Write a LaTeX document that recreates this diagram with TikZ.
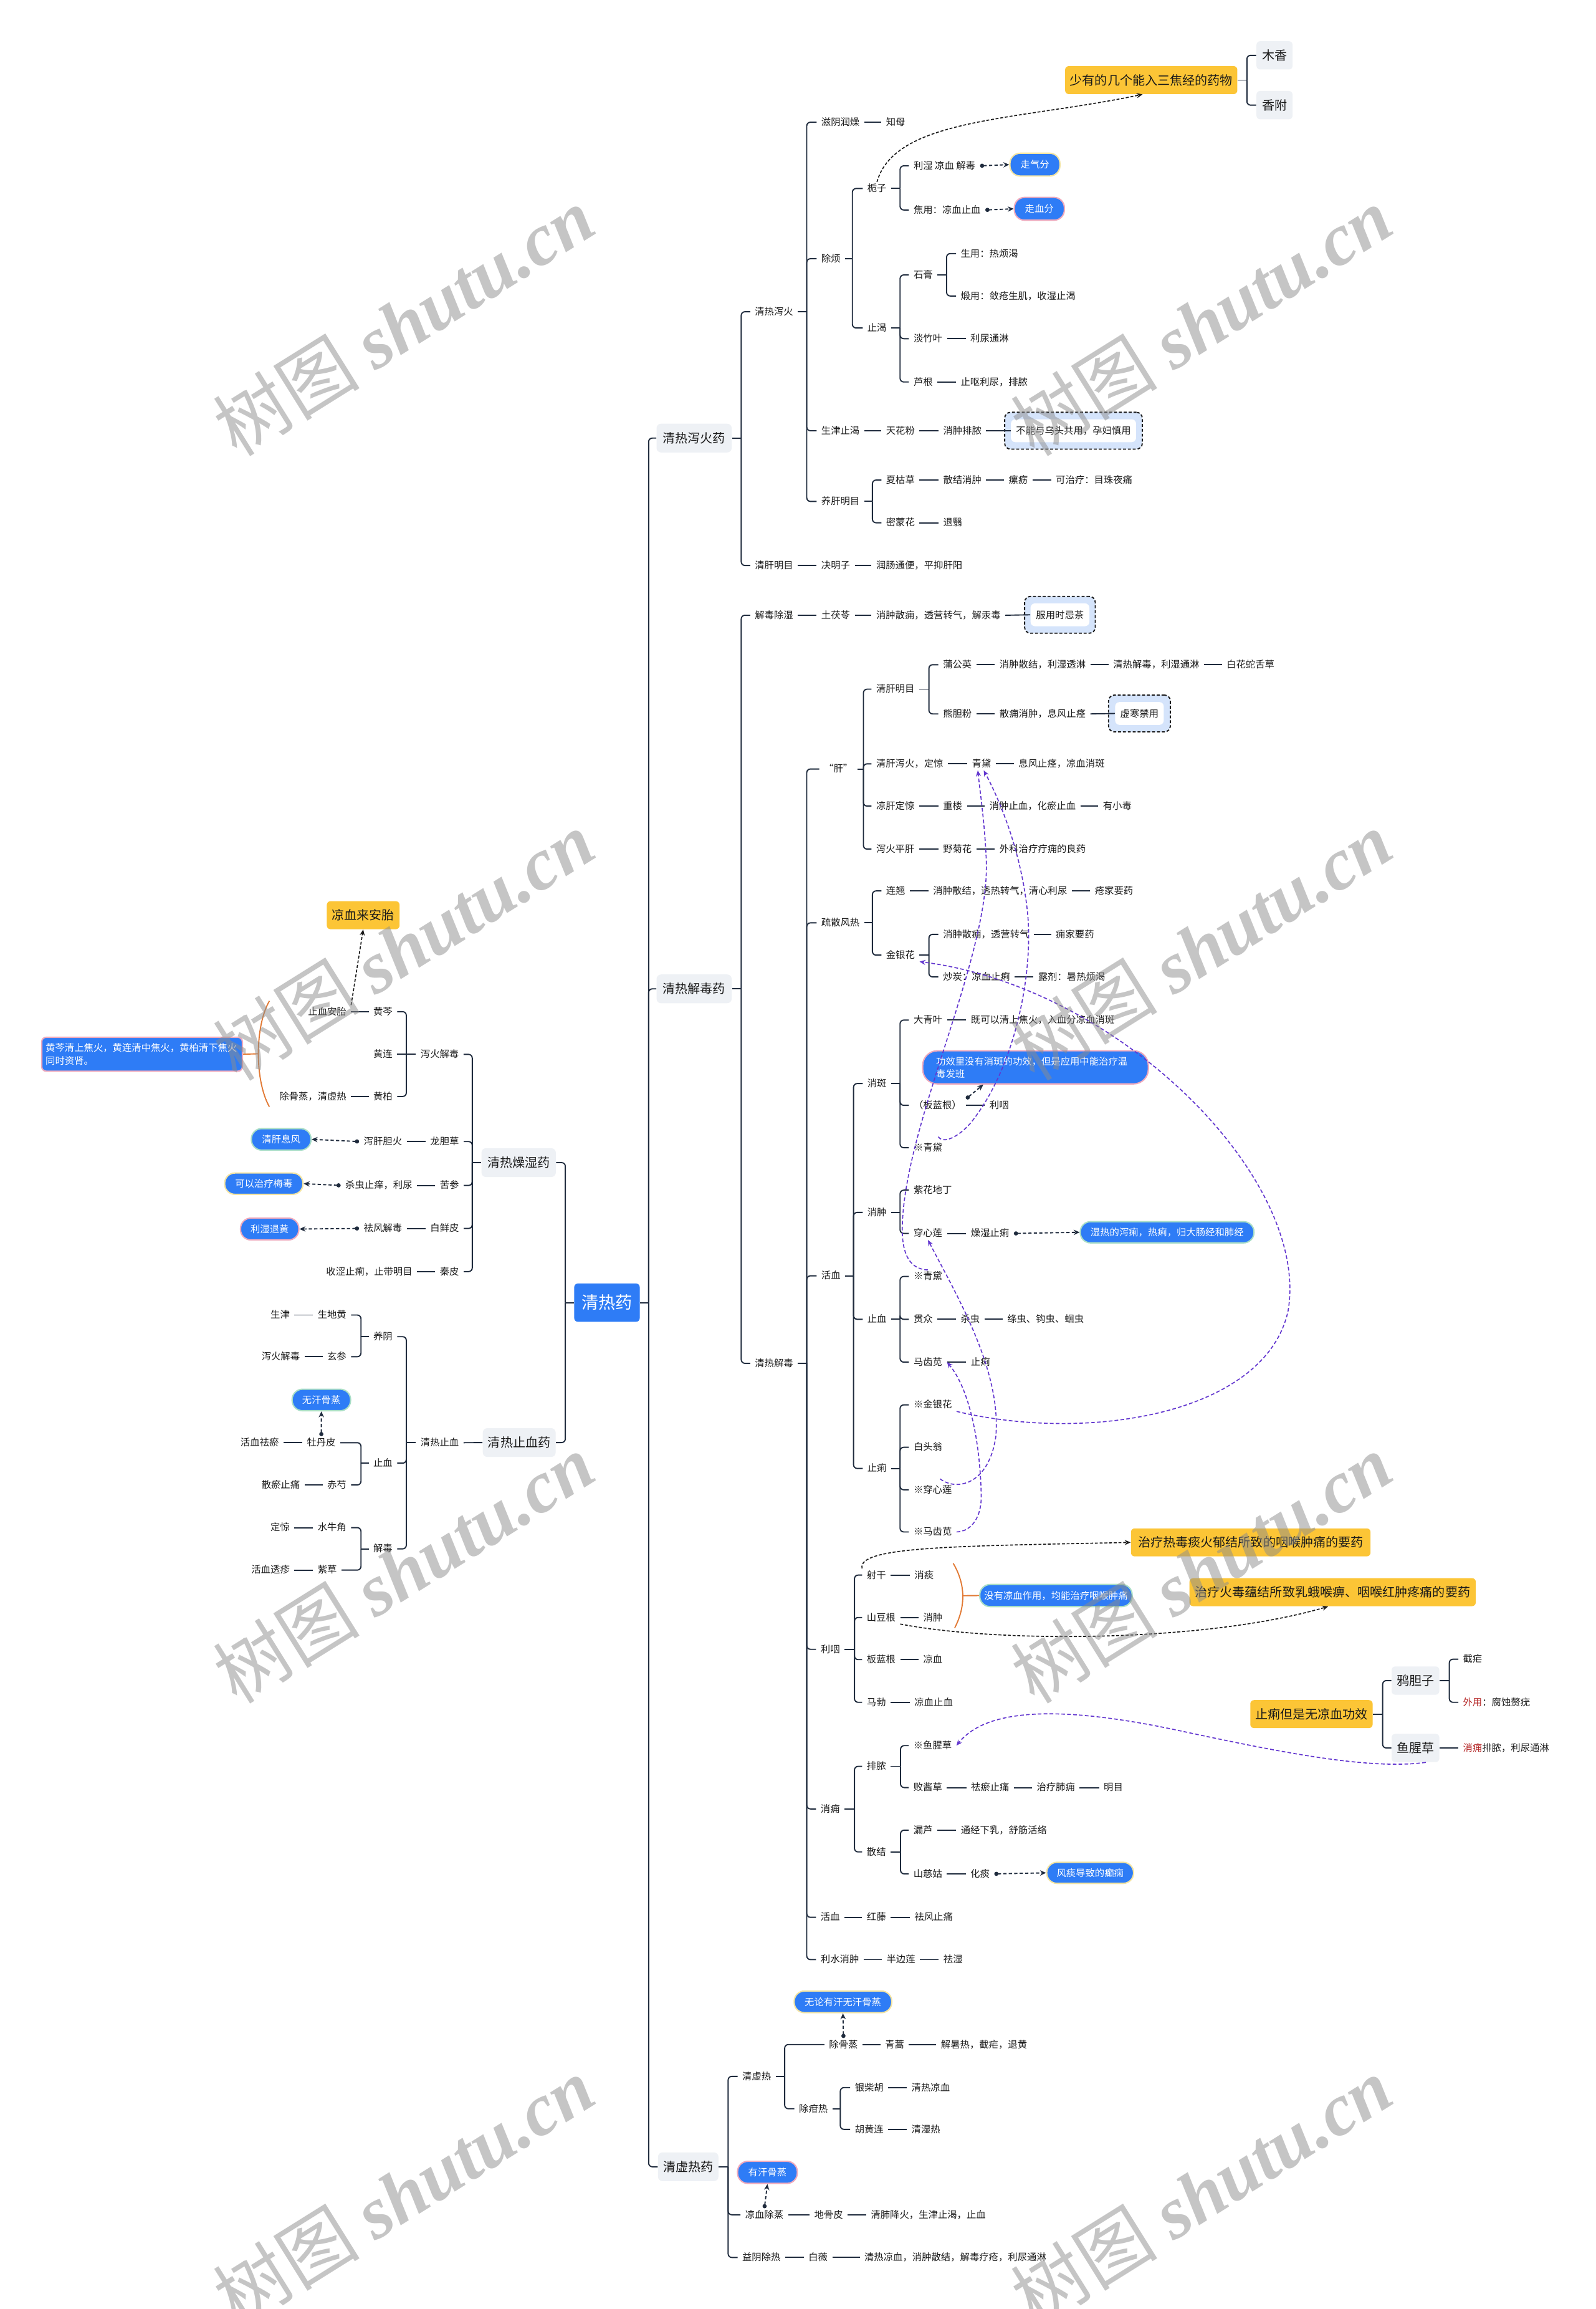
\documentclass[tikz,border=0pt]{standalone}
\usepackage{fontspec}
\setmainfont{Noto Sans CJK SC}
\newfontfamily\wmlat{Liberation Serif}
\usetikzlibrary{arrows.meta,calc}
\definecolor{ln}{HTML}{1F2B3D}
\definecolor{txc}{HTML}{1A1A1A}
\definecolor{bl}{HTML}{2E7CF6}
\definecolor{yl}{HTML}{FCC536}
\definecolor{gb}{HTML}{EEF1F5}
\definecolor{lb}{HTML}{D5E4FB}
\definecolor{pu}{HTML}{6236CF}
\definecolor{brY}{HTML}{F3E4A2}
\definecolor{brP}{HTML}{EFA9BC}
\definecolor{brG}{HTML}{A9DEC6}
\definecolor{org}{HTML}{E27A35}
\definecolor{rd}{HTML}{B42424}
\newcommand\mmR[4]{\node[tx,anchor=west] (#1) at (#2-3,#3) {#4};}
\newcommand\mmL[4]{\node[tx,anchor=east] (#1) at (#2+3,#3) {#4};}
\newcommand\lk[2]{\draw[tree] (#1.east) -- (#2.west);}
\newcommand\lkL[2]{\draw[tree] (#1.west) -- (#2.east);}
\newcommand\kidsR[3]{\draw[tree] (#1.east) -- (#1.east -| #2,0);
  \foreach \kid in {#3}{\draw[tree,rounded corners=2.5pt] (#1.east -| #2,0) |- (\kid.west);}}
\newcommand\kidsL[3]{\draw[tree] (#1.west) -- (#1.west -| #2,0);
  \foreach \kid in {#3}{\draw[tree,rounded corners=2.5pt] (#1.west -| #2,0) |- (\kid.east);}}
\newcommand\DB[6]{\node[dbout,minimum width=#4pt] (#1o) at (#2,#3) {};
  \node[dbin,minimum width=#5pt] (#1) at (#2,#3) {#6};}
\begin{document}
\begin{tikzpicture}[x=1pt,y=-1pt,
 tx/.style={font=\fontsize{6.5}{7.5}\selectfont, text=txc, inner xsep=3pt, inner ysep=1pt, text height=5.5pt, text depth=1pt},
 tree/.style={draw=ln, line width=0.8pt},
 rootbox/.style={fill=bl, text=white, rounded corners=2.5pt, minimum width=44.5pt, minimum height=26pt, inner sep=0pt, font=\fontsize{11.5}{12}\selectfont},
 l1box/.style={fill=gb, text=txc, rounded corners=3pt, minimum height=19.5pt, inner sep=0pt, font=\fontsize{8.5}{9}\selectfont},
 ybox/.style={fill=yl, text=txc, rounded corners=2.5pt, minimum height=19pt, inner sep=0pt, font=\fontsize{8.5}{9}\selectfont},
 gbox/.style={fill=gb, text=txc, rounded corners=2.5pt, minimum height=19.2pt, inner sep=0pt, font=\fontsize{8.5}{9}\selectfont},
 pill/.style={fill=bl, text=white, rounded corners=7pt, line width=0.9pt, inner sep=0pt, font=\fontsize{6.5}{8.5}\selectfont},
 dbout/.style={draw=txc, dash pattern=on 2pt off 1.3pt, line width=0.8pt, fill=lb, rounded corners=4pt, minimum height=25pt, inner sep=0pt},
 dbin/.style={fill=white, rounded corners=3pt, minimum height=15.5pt, inner sep=0pt, font=\fontsize{6.5}{7.5}\selectfont, text=txc},
 dotarr/.style={draw=ln, line width=0.8pt, dash pattern=on 2.2pt off 1.5pt, {Circle[length=2.8pt]}-{Stealth[length=4pt,width=3.6pt]}},
 bkarr/.style={draw=txc, line width=0.7pt, dash pattern=on 2pt off 1.2pt, -{Stealth[length=4pt,width=3.4pt]}},
 puarr/.style={draw=pu, line width=0.7pt, dash pattern=on 2.5pt off 1.5pt, -{Stealth[length=4pt,width=3.4pt]}},
 orgline/.style={draw=org, line width=0.8pt},
 wm/.style={text=black!45, text opacity=0.5, font=\fontsize{50}{50}\selectfont}]
\useasboundingbox (0,0) rectangle (1084,1568);
\fill[white] (0,0) rectangle (1084,1568);

% ---- root and level 1
\node[rootbox] (root) at (412.3,884.6) {清热药};
\node[l1box,minimum width=51pt] (qrxh) at (471.5,297.5) {清热泻火药};
\node[l1box,minimum width=51pt] (qrjd) at (471.5,671.5) {清热解毒药};
\node[l1box,minimum width=41pt] (qxr) at (467.5,1471.4) {清虚热药};
\node[l1box,minimum width=50.5pt] (zsy) at (352.3,789.5) {清热燥湿药};
\node[l1box,minimum width=49.5pt] (zxy) at (352.7,979.6) {清热止血药};
\kidsR{root}{440.6}{qrxh,qrjd,qxr}
\kidsL{root}{384}{zsy,zxy}

% ---- 清热泻火药
\mmR{a1}{512.6}{211.7}{清热泻火}
\mmR{a2}{512.6}{384}{清肝明目}
\kidsR{qrxh}{503.5}{a1,a2}
\mmR{b1}{557.7}{83}{滋阴润燥}
\mmR{b1a}{601.7}{83}{知母}\lk{b1}{b1a}
\mmR{b2}{557.7}{175.7}{除烦}
\mmR{b3}{557.7}{292.5}{生津止渴}
\mmR{b4}{557.7}{340.5}{养肝明目}
\kidsR{a1}{548}{b1,b2,b3,b4}
\mmR{c1}{589}{128}{栀子}
\mmR{c2}{589}{222.7}{止渴}
\kidsR{b2}{579}{c1,c2}
\mmR{d1}{620.4}{112.6}{利湿 凉血 解毒}
\mmR{d2}{620.4}{142.6}{焦用：凉血止血}
\kidsR{c1}{611.4}{d1,d2}
\node[pill,draw=brY,minimum width=34pt,minimum height=15.5pt] (p1) at (703,111.8) {走气分};
\node[pill,draw=brP,minimum width=34pt,minimum height=15.5pt] (p2) at (706,141.8) {走血分};
\draw[dotarr] (d1.east) -- (p1.west);
\draw[dotarr] (d2.east) -- (p2.west);
\mmR{d3}{620.4}{186.7}{石膏}
\mmR{d4}{620.4}{230}{淡竹叶}
\mmR{d5}{620.4}{259.4}{芦根}
\kidsR{c2}{611.4}{d3,d4,d5}
\mmR{e1}{652.4}{172.2}{生用：热烦渴}
\mmR{e2}{652.4}{201}{煅用：敛疮生肌，收湿止渴}
\kidsR{d3}{643}{e1,e2}
\mmR{d4a}{659}{230}{利尿通淋}\lk{d4}{d4a}
\mmR{d5a}{652.4}{259.4}{止呕利尿，排脓}\lk{d5}{d5a}
\mmR{b3a}{601.7}{292.5}{天花粉}
\mmR{b3b}{640.5}{292.5}{消肿排脓}
\DB{db1}{729.2}{292.5}{93.5}{85}{不能与乌头共用，孕妇慎用}
\lk{b3}{b3a}\lk{b3a}{b3b}\lk{b3b}{db1}
\mmR{b4a}{601.7}{326}{夏枯草}
\mmR{b4b}{601.7}{355}{密蒙花}
\kidsR{b4}{592.6}{b4a,b4b}
\mmR{b4a1}{640.5}{326}{散结消肿}
\mmR{b4a2}{685}{326}{瘰疬}
\mmR{b4a3}{717}{326}{可治疗：目珠夜痛}
\lk{b4a}{b4a1}\lk{b4a1}{b4a2}\lk{b4a2}{b4a3}
\mmR{b4b1}{640.5}{355}{退翳}\lk{b4b}{b4b1}
\mmR{a2a}{557.7}{384}{决明子}
\mmR{a2b}{595}{384}{润肠通便，平抑肝阳}
\lk{a2}{a2a}\lk{a2a}{a2b}
\node[ybox,minimum width=117pt] (sy) at (782,54.4) {少有的几个能入三焦经的药物};
\node[gbox,minimum width=24.5pt] (mx) at (865.75,37.6) {木香};
\node[gbox,minimum width=24.5pt] (xf) at (865.75,71.4) {香附};
\kidsR{sy}{847}{mx,xf}
\draw[bkarr] (c1.north) .. controls (608,80) and (690,82) .. ($(sy.south west)!0.45!(sy.south east)$);

% ---- 清热解毒药
\mmR{f1}{512.6}{417.8}{解毒除湿}
\mmR{f2}{512.6}{925.8}{清热解毒}
\kidsR{qrjd}{503.5}{f1,f2}
\mmR{f1a}{557.7}{417.8}{土茯苓}
\mmR{f1b}{595}{417.8}{消肿散痈，透营转气，解汞毒}
\DB{db2}{720}{417.5}{48}{40}{服用时忌茶}
\lk{f1}{f1a}\lk{f1a}{f1b}\lk{f1b}{db2}
\mmR{g1}{559.5}{522.2}{“肝”}
\mmR{g2}{557.7}{626.7}{疏散风热}
\mmR{g3}{557.7}{866.4}{活血}
\mmR{g4}{557.3}{1120}{利咽}
\mmR{g5}{557.3}{1228.4}{消痈}
\mmR{g6}{557.3}{1302}{活血}
\mmR{g7}{557.3}{1330.7}{利水消肿}
\kidsR{f2}{548}{g1,g2,g3,g4,g5,g6,g7}
\mmR{h1}{595}{468}{清肝明目}
\mmR{h2}{595}{518.7}{清肝泻火，定惊}
\mmR{h3}{595}{547.4}{凉肝定惊}
\mmR{h4}{595}{576.6}{泻火平肝}
\kidsR{g1}{586.5}{h1,h2,h3,h4}
\mmR{h1a}{640.4}{451.4}{蒲公英}
\mmR{h1b}{640.4}{484.8}{熊胆粉}
\kidsR{h1}{631}{h1a,h1b}
\mmR{h1a1}{678.8}{451.4}{消肿散结，利湿透淋}
\mmR{h1a2}{756}{451.4}{清热解毒，利湿通淋}
\mmR{h1a3}{833}{451.4}{白花蛇舌草}
\lk{h1a}{h1a1}\lk{h1a1}{h1a2}\lk{h1a2}{h1a3}
\mmR{h1b1}{678.8}{484.8}{散痈消肿，息风止痉}
\DB{db3}{774}{484.5}{42}{33}{虚寒禁用}
\lk{h1b}{h1b1}\lk{h1b1}{db3}
\mmR{qd1}{660}{518.7}{青黛}
\mmR{h2b}{691.7}{518.7}{息风止痉，凉血消斑}
\lk{h2}{qd1}\lk{qd1}{h2b}
\mmR{h3a}{640.4}{547.4}{重楼}
\mmR{h3b}{672}{547.4}{消肿止血，化瘀止血}
\mmR{h3c}{749}{547.4}{有小毒}
\lk{h3}{h3a}\lk{h3a}{h3b}\lk{h3b}{h3c}
\mmR{h4a}{640.4}{576.6}{野菊花}
\mmR{h4b}{678.8}{576.6}{外科治疗疔痈的良药}
\lk{h4}{h4a}\lk{h4a}{h4b}
\mmR{lq}{601.7}{605}{连翘}
\mmR{jyh}{601.7}{648.6}{金银花}
\kidsR{g2}{592.6}{lq,jyh}
\mmR{lq1}{633.7}{605}{消肿散结，透热转气，清心利尿}
\mmR{lq2}{743.5}{605}{疮家要药}
\lk{lq}{lq1}\lk{lq1}{lq2}
\mmR{j1}{640.4}{634.5}{消肿散痈，透营转气}
\mmR{j2}{640.4}{663.4}{炒炭：凉血止痢}
\kidsR{jyh}{631}{j1,j2}
\mmR{j1a}{717}{634.5}{痈家要药}\lk{j1}{j1a}
\mmR{j2a}{705}{663.4}{露剂：暑热烦渴}\lk{j2}{j2a}
\mmR{k1}{589}{735.8}{消斑}
\mmR{k2}{589}{823.3}{消肿}
\mmR{k3}{589}{895.9}{止血}
\mmR{k4}{589}{997.2}{止痢}
\kidsR{g3}{579.8}{k1,k2,k3,k4}
\mmR{dqy}{620.4}{692.7}{大青叶}
\mmR{blg}{620.4}{750.6}{（板蓝根）}
\mmR{qd2}{620.4}{779.4}{※青黛}
\kidsR{k1}{611.4}{dqy,blg,qd2}
\mmR{dqy1}{659.3}{692.7}{既可以清上焦火，入血分凉血消斑}\lk{dqy}{dqy1}
\mmR{blg1}{672}{750.6}{利咽}\lk{blg}{blg1}
\node[pill,draw=brP,minimum width=153.3pt,minimum height=22.5pt,rounded corners=10pt,text width=135pt,align=left] (gx) at (703.4,724.8) {功效里没有消斑的功效，但是应用中能治疗温\\毒发班};
\draw[dotarr] (blg.north east) -- ($(gx.south west)!0.27!(gx.south east)$);
\mmR{zhdd}{620.4}{808.2}{紫花地丁}
\mmR{cxl}{620.4}{837.6}{穿心莲}
\kidsR{k2}{611.4}{zhdd,cxl}
\mmR{cxl1}{659.3}{837.6}{燥湿止痢}\lk{cxl}{cxl1}
\node[pill,draw=brG,minimum width=118pt,minimum height=14.4pt] (sr) at (792.8,836.8) {湿热的泻痢，热痢，归大肠经和肺经};
\draw[dotarr] (cxl1.east) -- (sr.west);
\mmR{qd3}{620.4}{866.8}{※青黛}
\mmR{gz}{620.4}{895.9}{贯众}
\mmR{mcx}{620.4}{925}{马齿苋}
\kidsR{k3}{611.4}{qd3,gz,mcx}
\mmR{gz1}{652.4}{895.9}{杀虫}
\mmR{gz2}{684}{895.9}{绦虫、钩虫、蛔虫}
\lk{gz}{gz1}\lk{gz1}{gz2}
\mmR{mcx1}{659.3}{925}{止痢}\lk{mcx}{mcx1}
\mmR{jyh2}{620.4}{954}{※金银花}
\mmR{btw}{620.4}{982.8}{白头翁}
\mmR{cxl2}{620.4}{1011.7}{※穿心莲}
\mmR{mcx2}{620.4}{1040.3}{※马齿苋}
\kidsR{k4}{611.4}{jyh2,btw,cxl2,mcx2}
\mmR{sg}{588.6}{1069.6}{射干}
\mmR{sdg}{588.6}{1098.4}{山豆根}
\mmR{blg2}{588.6}{1127}{板蓝根}
\mmR{mb}{588.6}{1156}{马勃}
\kidsR{g4}{580.4}{sg,sdg,blg2,mb}
\mmR{sg1}{621}{1069.6}{消痰}\lk{sg}{sg1}
\mmR{sdg1}{627}{1098.4}{消肿}\lk{sdg}{sdg1}
\mmR{blg21}{627}{1127}{凉血}\lk{blg2}{blg21}
\mmR{mb1}{621}{1156}{凉血止血}\lk{mb}{mb1}
\node[pill,draw=brG,minimum width=103.5pt,minimum height=15pt] (my) at (717.3,1083.5) {没有凉血作用，均能治疗咽喉肿痛};
\coordinate (oa1) at (647.5,1061.6);
\coordinate (oa2) at (648.5,1105.5);
\coordinate (oam) at (654,1083.6);
\draw[orgline] (oa1) .. controls (656,1076) and (656,1091) .. (oa2);
\draw[orgline] (oam) -- (my.west);
\node[ybox,minimum width=162.7pt] (ytr) at (849.6,1047.4) {治疗热毒痰火郁结所致的咽喉肿痛的要药};
\node[ybox,minimum width=194.5pt] (yhd) at (905.2,1081.2) {治疗火毒蕴结所致乳蛾喉痹、咽喉红肿疼痛的要药};
\draw[bkarr] (sg.north west) .. controls (582,1050) and (650,1050) .. (ytr.west);
\draw[bkarr] (sdg.south east) .. controls (680,1116) and (820,1115) .. ($(yhd.south)+(-3,0)$);
\mmR{pn}{588.6}{1199.5}{排脓}
\mmR{sj}{588.6}{1257.6}{散结}
\kidsR{g5}{580.4}{pn,sj}
\mmR{yxc2}{620.3}{1185.4}{※鱼腥草}
\mmR{bjc}{620.3}{1213.9}{败酱草}
\kidsR{pn}{611.7}{yxc2,bjc}
\mmR{bjc1}{659.4}{1213.9}{祛瘀止痛}
\mmR{bjc2}{704}{1213.9}{治疗肺痈}
\mmR{bjc3}{749.6}{1213.9}{明目}
\lk{bjc}{bjc1}\lk{bjc1}{bjc2}\lk{bjc2}{bjc3}
\mmR{ll}{620.3}{1242.8}{漏芦}
\mmR{scg}{620.3}{1272.5}{山慈姑}
\kidsR{sj}{611.7}{ll,scg}
\mmR{ll1}{652.5}{1242.8}{通经下乳，舒筋活络}\lk{ll}{ll1}
\mmR{scg1}{659}{1272.5}{化痰}\lk{scg}{scg1}
\node[pill,draw=brY,minimum width=59pt,minimum height=14.3pt] (ft) at (740.5,1271.8) {风痰导致的癫痫};
\draw[dotarr] (scg1.east) -- (ft.west);
\mmR{g6a}{588.6}{1302}{红藤}\mmR{g6b}{621}{1302}{祛风止痛}\lk{g6}{g6a}\lk{g6a}{g6b}
\mmR{g7a}{602}{1330.7}{半边莲}\mmR{g7b}{640.7}{1330.7}{祛湿}\lk{g7}{g7a}\lk{g7a}{g7b}
\node[ybox,minimum width=83.1pt] (zl) at (890.85,1164) {止痢但是无凉血功效};
\node[gbox,minimum width=32.4pt] (yd) at (961.5,1141.25) {鸦胆子};
\node[gbox,minimum width=32.4pt] (yx) at (961.5,1187) {鱼腥草};
\kidsR{zl}{939.2}{yd,yx}
\mmR{jn}{993.6}{1126.7}{截疟}
\mmR{wy}{993.6}{1156}{{\color{rd}外用}：腐蚀赘疣}
\kidsR{yd}{984.5}{jn,wy}
\mmR{yxa}{993.6}{1187}{{\color{rd}消痈}排脓，利尿通淋}\lk{yx}{yxa}
\draw[puarr] ($(yx.south)+(7,0)$) .. controls (930,1202) and (870,1190) .. (800,1175) .. controls (720,1158) and (670,1160) .. (yxc2.east);

% purple cross links
\draw[puarr] (qd3.north) .. controls (617,862) and (612,850) .. (613,830) .. controls (616,760) and (672,650) .. (670,585) .. controls (669,560) and (666,540) .. ($(qd1.south)+(-2.5,0)$);
\draw[puarr] ($(qd2.north)+(7,-3)$) .. controls (641,777) and (651,772) .. (659,763) .. controls (690,725) and (702,660) .. (698,620) .. controls (694,580) and (680,545) .. ($(qd1.south)+(1.5,0)$);
\draw[puarr] (jyh2.south east) .. controls (740,980) and (860,960) .. (875,890) .. controls (890,800) and (760,670) .. (jyh.south east);
\draw[puarr] (mcx2.east) .. controls (660,1040) and (667,1030) .. (666.5,1015) .. controls (666,985) and (660,945) .. (mcx.east);
\draw[puarr] ($(cxl2.north)+(5,-3)$) .. controls (650,1013) and (672,1008) .. (676.5,975) .. controls (680,930) and (650,880) .. (cxl.south);

% ---- 清虚热药
\mmR{x1}{504}{1410}{清虚热}
\mmR{x2}{506}{1504}{凉血除蒸}
\mmR{x3}{504}{1533}{益阴除热}
\kidsR{qxr}{494.6}{x1,x2,x3}
\mmR{x1a}{563}{1388.4}{除骨蒸}
\mmR{x1b}{542.6}{1432}{除疳热}
\kidsR{x1}{533}{x1a,x1b}
\mmR{x1a1}{601}{1388.4}{青蒿\hspace{7pt}}
\mmR{x1a2}{639}{1388.4}{解暑热，截疟，退黄}
\lk{x1a}{x1a1}\lk{x1a1}{x1a2}
\node[pill,draw=brY,minimum width=66.3pt,minimum height=14.7pt] (wl) at (572.6,1359.4) {无论有汗无汗骨蒸};
\draw[dotarr] (x1a.north) -- (wl.south);
\mmR{ych}{580.5}{1417.6}{银柴胡}
\mmR{hhl}{580.5}{1446}{胡黄连}
\kidsR{x1b}{570.8}{ych,hhl}
\mmR{ych1}{619}{1417.6}{清热凉血}\lk{ych}{ych1}
\mmR{hhl1}{619}{1446}{清湿热}\lk{hhl}{hhl1}
\mmR{x2a}{552.9}{1504}{地骨皮}
\mmR{x2b}{591.4}{1504}{清肺降火，生津止渴，止血}
\lk{x2}{x2a}\lk{x2a}{x2b}
\node[pill,draw=brP,minimum width=40.6pt,minimum height=15pt] (yh) at (521.3,1475.2) {有汗骨蒸};
\draw[dotarr] (x2.north) -- (yh.south);
\mmR{x3a}{549}{1533}{白薇\hspace{7pt}}
\mmR{x3b}{587}{1533}{清热凉血，消肿散结，解毒疗疮，利尿通淋}
\lk{x3}{x3a}\lk{x3a}{x3b}

% ---- 清热燥湿药
\mmL{l1}{311.9}{716}{泻火解毒}
\mmL{l2}{312}{775.2}{龙胆草}
\mmL{l3}{312}{805}{苦参}
\mmL{l4}{312}{834.2}{白鲜皮}
\mmL{l5}{312}{863.5}{秦皮}
\kidsL{zsy}{320.8}{l1,l2,l3,l4,l5}
\mmL{hq}{266.8}{687}{黄芩}
\mmL{hl}{266.8}{716}{黄连}
\mmL{hb}{266.8}{744.6}{黄柏}
\kidsL{l1}{276}{hq,hb}
\lkL{l1}{hl}
\mmL{zxaz}{235.5}{687}{止血安胎}\lkL{hq}{zxaz}
\mmL{cgz}{235.5}{744.6}{除骨蒸，清虚热}\lkL{hb}{cgz}
\node[ybox,minimum width=49.4pt] (la) at (246.7,621.5) {凉血来安胎};
\draw[bkarr] (zxaz.north east) -- (la.south);
\node[pill,draw=brP,minimum width=136.3pt,minimum height=23pt,rounded corners=3pt,text width=131pt,align=left] (hqp) at (96.5,715.9) {黄芩清上焦火，黄连清中焦火，黄柏清下焦火\\同时资肾。};
\coordinate (ob1) at (183,679.7);
\coordinate (ob2) at (183,751.6);
\coordinate (obm) at (175.5,715.6);
\draw[orgline] (ob1) .. controls (173,697) and (173,734) .. (ob2);
\draw[orgline] (obm) -- (hqp.east);
\mmL{xgdh}{273.3}{775.2}{泻肝胆火}\lkL{l2}{xgdh}
\node[pill,draw=brG,minimum width=40.5pt,minimum height=14.6pt] (qgxf) at (191,773.7) {清肝息风};
\draw[dotarr] (xgdh.west) -- (qgxf.east);
\mmL{sczy}{280.3}{805}{杀虫止痒，利尿}\lkL{l3}{sczy}
\node[pill,draw=brY,minimum width=53.2pt,minimum height=14.5pt] (kyzl) at (179.2,803.8) {可以治疗梅毒};
\draw[dotarr] (sczy.west) -- (kyzl.east);
\mmL{qfjd}{273.3}{834.2}{祛风解毒}\lkL{l4}{qfjd}
\node[pill,draw=brP,minimum width=39.6pt,minimum height=14.8pt] (lsth) at (183.2,834.6) {利湿退黄};
\draw[dotarr] (qfjd.west) -- (lsth.east);
\mmL{l5a}{280.3}{863.5}{收涩止痢，止带明目}\lkL{l5}{l5a}

% ---- 清热止血药
\mmL{qrzx}{311.9}{979.7}{清热止血}\lkL{zxy}{qrzx}
\mmL{yy}{266.8}{907.7}{养阴}
\mmL{zx2}{266.8}{993.6}{止血}
\mmL{jd}{266.8}{1051.8}{解毒}
\kidsL{qrzx}{276}{yy,zx2,jd}
\mmL{sdh}{235.5}{893}{生地黄}
\mmL{xs}{235.5}{921.3}{玄参}
\kidsL{yy}{245.2}{sdh,xs}
\mmL{sdh1}{197}{893}{生津}\lkL{sdh}{sdh1}
\mmL{xs1}{203.9}{921.3}{泻火解毒}\lkL{xs}{xs1}
\mmL{mdp}{228.2}{979.7}{牡丹皮}
\mmL{cs}{235.5}{1008.4}{赤芍}
\kidsL{zx2}{245.2}{mdp,cs}
\mmL{mdp1}{189.6}{979.7}{活血祛瘀}\lkL{mdp}{mdp1}
\mmL{cs1}{203.9}{1008.4}{散瘀止痛}\lkL{cs}{cs1}
\node[pill,draw=brG,minimum width=39.7pt,minimum height=14.6pt] (whgz) at (218.3,950.7) {无汗骨蒸};
\draw[dotarr] (mdp.north) -- (whgz.south);
\mmL{snj}{235.5}{1037.4}{水牛角}
\mmL{zc}{229}{1066.2}{紫草}
\kidsL{jd}{245.2}{snj,zc}
\mmL{snj1}{197}{1037.4}{定惊}\lkL{snj}{snj1}
\mmL{zc1}{197}{1066.2}{活血透疹}\lkL{zc}{zc1}

% ---- watermarks
\foreach \wx/\wy in {274/218,816/218,274/642,816/642,274/1065,816/1065,274/1488,816/1488}
  \node[wm,rotate=32] at (\wx,\wy) {树图 {\wmlat\bfseries\itshape shutu.cn}};
\end{tikzpicture}
\end{document}
